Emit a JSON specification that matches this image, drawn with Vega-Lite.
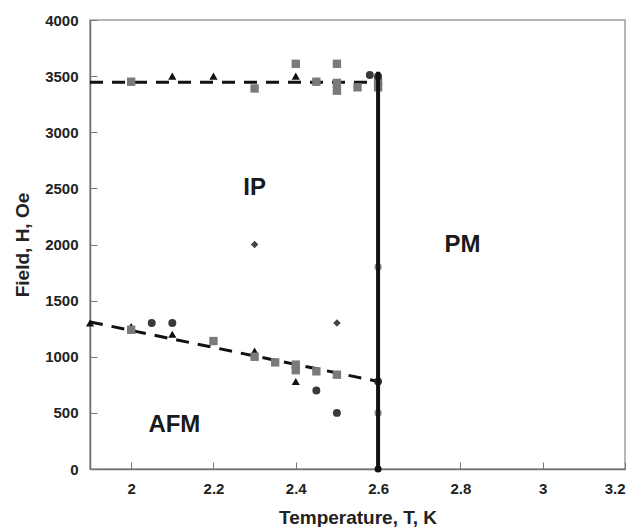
{
  "$schema": "https://vega.github.io/schema/vega-lite/v6.json",
  "width": 535,
  "height": 449,
  "autosize": {"type": "none"},
  "padding": {"left": 90, "top": 20, "right": 15, "bottom": 58},
  "background": "white",
  "config": {
    "view": {"stroke": "#a0a0a0", "strokeWidth": 1.5},
    "font": "Liberation Sans",
    "axis": {
      "grid": false,
      "ticks": true,
      "domainColor": "#707070",
      "domainWidth": 1.5,
      "tickColor": "#777777",
      "tickWidth": 1,
      "tickSize": -7,
      "labelFont": "Liberation Sans",
      "labelFontWeight": "bold",
      "labelFontSize": 15,
      "labelColor": "#222",
      "titleFont": "Liberation Sans",
      "titleFontWeight": "bold",
      "titleFontSize": 19,
      "titleColor": "#222"
    }
  },
  "datasets": {
    "points": [
      {"T": 2.0, "H": 3450, "kind": "square"},
      {"T": 2.3, "H": 3390, "kind": "square"},
      {"T": 2.4, "H": 3610, "kind": "square"},
      {"T": 2.45, "H": 3450, "kind": "square"},
      {"T": 2.5, "H": 3610, "kind": "square"},
      {"T": 2.5, "H": 3440, "kind": "square"},
      {"T": 2.5, "H": 3370, "kind": "square"},
      {"T": 2.55, "H": 3400, "kind": "square"},
      {"T": 2.6, "H": 3450, "kind": "square"},
      {"T": 2.6, "H": 3400, "kind": "square"},
      {"T": 2.1, "H": 3500, "kind": "triangle"},
      {"T": 2.2, "H": 3500, "kind": "triangle"},
      {"T": 2.4, "H": 3500, "kind": "triangle"},
      {"T": 2.58, "H": 3510, "kind": "circle"},
      {"T": 2.6, "H": 3500, "kind": "bigcircle"},
      {"T": 1.9, "H": 1300, "kind": "triangle"},
      {"T": 2.0, "H": 1270, "kind": "triangle"},
      {"T": 2.1, "H": 1200, "kind": "triangle"},
      {"T": 2.3, "H": 1050, "kind": "triangle"},
      {"T": 2.4, "H": 780, "kind": "triangle"},
      {"T": 2.0, "H": 1240, "kind": "square"},
      {"T": 2.2, "H": 1140, "kind": "square"},
      {"T": 2.3, "H": 1000, "kind": "square"},
      {"T": 2.35, "H": 950, "kind": "square"},
      {"T": 2.4, "H": 930, "kind": "square"},
      {"T": 2.4, "H": 880, "kind": "square"},
      {"T": 2.45, "H": 870, "kind": "square"},
      {"T": 2.5, "H": 840, "kind": "square"},
      {"T": 2.05, "H": 1300, "kind": "circle"},
      {"T": 2.1, "H": 1300, "kind": "circle"},
      {"T": 2.45, "H": 700, "kind": "circle"},
      {"T": 2.5, "H": 500, "kind": "circle"},
      {"T": 2.6, "H": 780, "kind": "bigcircle"},
      {"T": 2.3, "H": 2000, "kind": "diamond"},
      {"T": 2.5, "H": 1300, "kind": "diamond"},
      {"T": 2.6, "H": 1800, "kind": "dot"},
      {"T": 2.6, "H": 500, "kind": "dot"},
      {"T": 2.6, "H": 0, "kind": "enddot"}
    ],
    "dashes": [
      {"T": 1.9, "H": 3445, "line": "upper"},
      {"T": 2.6, "H": 3445, "line": "upper"},
      {"T": 1.9, "H": 1310, "line": "lower"},
      {"T": 2.6, "H": 780, "line": "lower"}
    ],
    "boundary": [
      {"T": 2.6, "H": 0},
      {"T": 2.6, "H": 3540}
    ],
    "labels": [
      {"T": 2.3, "H": 2500, "text": "IP"},
      {"T": 2.805, "H": 1995, "text": "PM"},
      {"T": 2.105, "H": 390, "text": "AFM"}
    ]
  },
  "layer": [
    {
      "data": {"name": "dashes"},
      "mark": {"type": "line", "color": "#111", "strokeWidth": 3, "strokeDash": [13, 9]},
      "encoding": {
        "x": {"field": "T", "type": "quantitative", "scale": {"domain": [1.9, 3.2]},
              "axis": {"values": [2, 2.2, 2.4, 2.6, 2.8, 3, 3.2], "labelExpr": "'' + datum.value", "title": "Temperature, T, K", "labelPadding": 19, "titlePadding": 12}},
        "y": {"field": "H", "type": "quantitative", "scale": {"domain": [0, 4000]},
              "axis": {"values": [0, 500, 1000, 1500, 2000, 2500, 3000, 3500, 4000], "format": "d", "title": "Field, H, Oe", "labelPadding": 19, "titlePadding": 12}},
        "detail": {"field": "line"}
      }
    },
    {
      "data": {"name": "points"},
      "mark": {"type": "point", "filled": true, "opacity": 1},
      "encoding": {
        "x": {"field": "T", "type": "quantitative"},
        "y": {"field": "H", "type": "quantitative"},
        "shape": {"field": "kind", "type": "nominal", "legend": null,
                  "scale": {"domain": ["square", "triangle", "circle", "bigcircle", "diamond", "dot", "enddot"],
                            "range": ["square", "triangle-up", "circle", "circle", "diamond", "circle", "circle"]}},
        "color": {"field": "kind", "type": "nominal", "legend": null,
                  "scale": {"domain": ["square", "triangle", "circle", "bigcircle", "diamond", "dot", "enddot"],
                            "range": ["#7a7a7a", "#111111", "#3a3a3a", "#2a2a2a", "#444444", "#8a8a8a", "#111111"]}},
        "size": {"field": "kind", "type": "nominal", "legend": null,
                 "scale": {"domain": ["square", "triangle", "circle", "bigcircle", "diamond", "dot", "enddot"],
                           "range": [70, 50, 65, 160, 30, 20, 40]}}
      }
    },
    {
      "data": {"name": "boundary"},
      "mark": {"type": "line", "color": "#111", "strokeWidth": 4},
      "encoding": {
        "x": {"field": "T", "type": "quantitative"},
        "y": {"field": "H", "type": "quantitative"}
      }
    },
    {
      "data": {"name": "labels"},
      "mark": {"type": "text", "font": "Liberation Sans", "fontWeight": "bold", "fontSize": 24, "color": "#1a1a1a", "align": "center", "baseline": "middle"},
      "encoding": {
        "x": {"field": "T", "type": "quantitative"},
        "y": {"field": "H", "type": "quantitative"},
        "text": {"field": "text"}
      }
    }
  ]
}
